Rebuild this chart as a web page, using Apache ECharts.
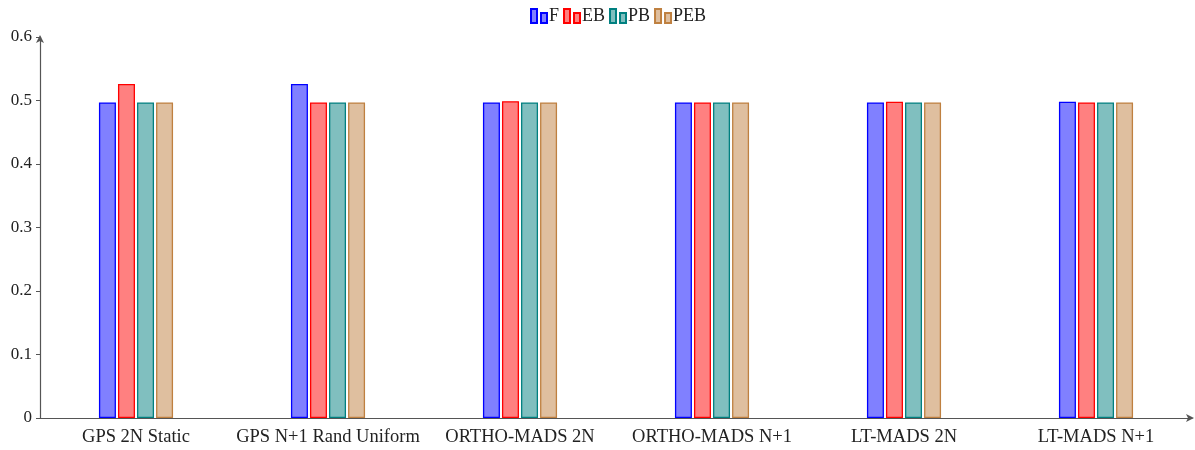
<!DOCTYPE html>
<html>
<head>
<meta charset="utf-8">
<script src="https://cdn.jsdelivr.net/npm/echarts@6/dist/echarts.min.js"></script>
<style>
  html, body { margin: 0; padding: 0; background: #fff; }
  #chart { width: 1195px; height: 450px; }
</style>
</head>
<body>
<div id="chart"></div>
<script>
// Poll methods compared
const categories = ['GPS 2N Static', 'GPS N+1 Rand Uniform', 'ORTHO-MADS 2N', 'ORTHO-MADS N+1', 'LT-MADS 2N', 'LT-MADS N+1'];
const seriesNames = ['F', 'EB', 'PB', 'PEB'];
const valuesF   = [0.497, 0.526, 0.497, 0.497, 0.497, 0.498];
const valuesEB  = [0.526, 0.497, 0.499, 0.497, 0.498, 0.497];
const valuesPB  = [0.497, 0.497, 0.497, 0.497, 0.497, 0.497];
const valuesPEB = [0.497, 0.497, 0.497, 0.497, 0.497, 0.497];
const yTicks = [0, 0.1, 0.2, 0.3, 0.4, 0.5, 0.6];

const seriesValues = [valuesF, valuesEB, valuesPB, valuesPEB];
const fills   = ['#8080ff', '#ff8080', '#80bfbf', '#dfbf9f'];
const strokes = ['#0000ff', '#ff0000', '#008080', '#bf8040'];
const font = 'Liberation Serif';

// two-bar glyph used as legend marker
const legendIcon = 'path://M0,0h6v14h-6z M10,4h6v10h-6z';

const chart = echarts.init(document.getElementById('chart'), null, { renderer: 'canvas' });
chart.setOption({
  animation: false,
  backgroundColor: '#fff',
  textStyle: { fontFamily: font },
  legend: {
    top: 2,
    left: 525,
    itemWidth: 16,
    itemHeight: 14,
    itemGap: 4,
    icon: legendIcon,
    textStyle: { fontFamily: font, fontSize: 18, color: '#222', padding: [3, 0, 0, -3] },
    data: seriesNames
  },
  grid: { left: 40, right: 3, top: 37, bottom: 32, containLabel: false },
  xAxis: {
    type: 'category',
    data: categories,
    axisLine: { lineStyle: { color: '#555', width: 1.2 }, symbol: ['none', 'arrow'], symbolSize: [6, 8], symbolOffset: [0, 2] },
    axisTick: { alignWithLabel: true, length: 4, lineStyle: { color: '#555' } },
    axisLabel: { interval: 0, fontFamily: font, fontSize: 18.5, color: '#222', margin: 10 },
    splitLine: { show: false }
  },
  yAxis: {
    type: 'value',
    min: yTicks[0],
    max: yTicks[yTicks.length - 1],
    interval: 0.1,
    axisLine: { show: true, lineStyle: { color: '#555', width: 1.2 }, symbol: ['none', 'arrow'], symbolSize: [6, 8], symbolOffset: [0, 2] },
    axisTick: { show: true, length: 4, lineStyle: { color: '#555' } },
    axisLabel: { fontFamily: font, fontSize: 17, color: '#222', margin: 8, formatter: v => String(+v.toFixed(1)) },
    splitLine: { show: false }
  },
  series: seriesNames.map((name, i) => ({
    name,
    type: 'bar',
    data: seriesValues[i],
    barWidth: 17,
    barGap: '12%',
    itemStyle: { color: fills[i], borderColor: strokes[i], borderWidth: 1.3 }
  }))
});
</script>
</body>
</html>
